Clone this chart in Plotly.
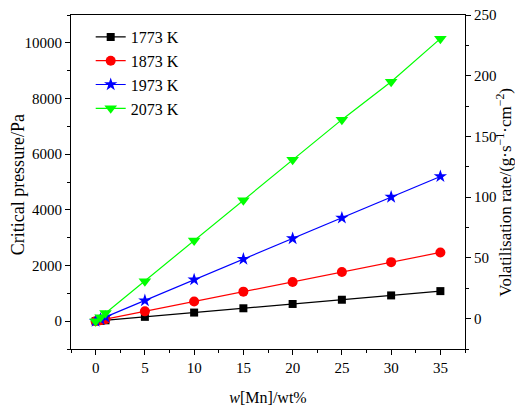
import plotly.graph_objects as go

x_mn = [0, 0.5, 1, 5, 10, 15, 20, 25, 30, 35]
series_names = ["1773 K", "1873 K", "1973 K", "2073 K"]
p_1773 = [0, 15, 31, 155, 309, 463, 618, 770, 925, 1080]
p_1873 = [0, 35, 71, 353, 706, 1060, 1410, 1765, 2120, 2470]
p_1973 = [0, 74, 149, 740, 1490, 2230, 2970, 3710, 4460, 5200]
p_2073 = [0, 145, 290, 1430, 2900, 4340, 5800, 7240, 8600, 10150]

x_ticks = [0, 5, 10, 15, 20, 25, 30, 35]
y_left_ticks = [0, 2000, 4000, 6000, 8000, 10000]
y_left_labels = ["0", "2000", "4000", "6000", "8000", "10000"]
y_right_ticks = [0, 50, 100, 150, 200, 250]

x_title = "<i>w</i>[Mn]/wt%"
y_left_title = "Critical pressure/Pa"
y_right_title = "Volatilisation rate/(g·s<sup>−1</sup>·cm<sup>−2</sup>)"

colors = ["#000000", "#FF0000", "#0000FF", "#00FF00"]
symbols = ["square", "circle", "star", "triangle-down"]
sizes = [8, 10, 10, 11]

FONT = "Liberation Serif, serif"

fig = go.Figure()
for name, ys, c, s, sz in zip(series_names, [p_1773, p_1873, p_1973, p_2073], colors, symbols, sizes):
    fig.add_trace(go.Scatter(
        x=x_mn, y=ys, name=name, mode="lines+markers",
        line=dict(color=c, width=1.2),
        marker=dict(symbol=s, color=c, size=sz, line=dict(width=0)),
    ))

# empty trace to activate the right axis
fig.add_trace(go.Scatter(x=[], y=[], yaxis="y2", showlegend=False, hoverinfo="skip"))

axis_common = dict(
    showgrid=False, zeroline=False, showline=True, linecolor="black", linewidth=1.2,
    ticks="outside", ticklen=5, tickwidth=1.2, tickcolor="black", automargin=False,
    tickfont=dict(family=FONT, size=15, color="black"),
)

fig.update_layout(
    template="none",
    width=515, height=406,
    margin=dict(l=71, r=50, t=15, b=57),
    paper_bgcolor="white", plot_bgcolor="white",
    font=dict(family=FONT, color="black", size=15),
    xaxis=dict(
        range=[-2.5, 37.5], tickvals=x_ticks, mirror=True,
        minor=dict(dtick=2.5, ticks="outside", ticklen=3, tickcolor="black", tickwidth=1.2, tick0=0),
        title=dict(text=x_title, font=dict(family=FONT, size=16, color="black")),
        **axis_common,
    ),
    yaxis=dict(
        range=[-1000, 11000], tickvals=y_left_ticks, ticktext=y_left_labels,
        minor=dict(dtick=1000, ticks="outside", ticklen=3, tickcolor="black", tickwidth=1.2, tick0=0),
        **axis_common,
    ),
    yaxis2=dict(
        overlaying="y", side="right", anchor="x",
        range=[-25, 250], tickvals=y_right_ticks,
        minor=dict(dtick=25, ticks="outside", ticklen=3, tickcolor="black", tickwidth=1.2, tick0=0),
        **axis_common,
    ),
    legend=dict(
        x=0.05, y=0.985, xanchor="left", yanchor="top",
        bgcolor="rgba(0,0,0,0)", font=dict(family=FONT, size=16, color="black"),
        tracegroupgap=0,
    ),
    annotations=[
        dict(text=y_left_title, xref="paper", yref="paper", x=-0.1345, y=0.49,
             xanchor="center", yanchor="middle", textangle=-90, showarrow=False,
             font=dict(family=FONT, size=18, color="black")),
        dict(text=y_right_title, xref="paper", yref="paper", x=1.098, y=0.47,
             xanchor="center", yanchor="middle", textangle=-90, showarrow=False,
             font=dict(family=FONT, size=17, color="black")),
    ],
)

fig.write_html("out.html", config={"displayModeBar": False},
               post_script="document.body.style.margin='0px';")
